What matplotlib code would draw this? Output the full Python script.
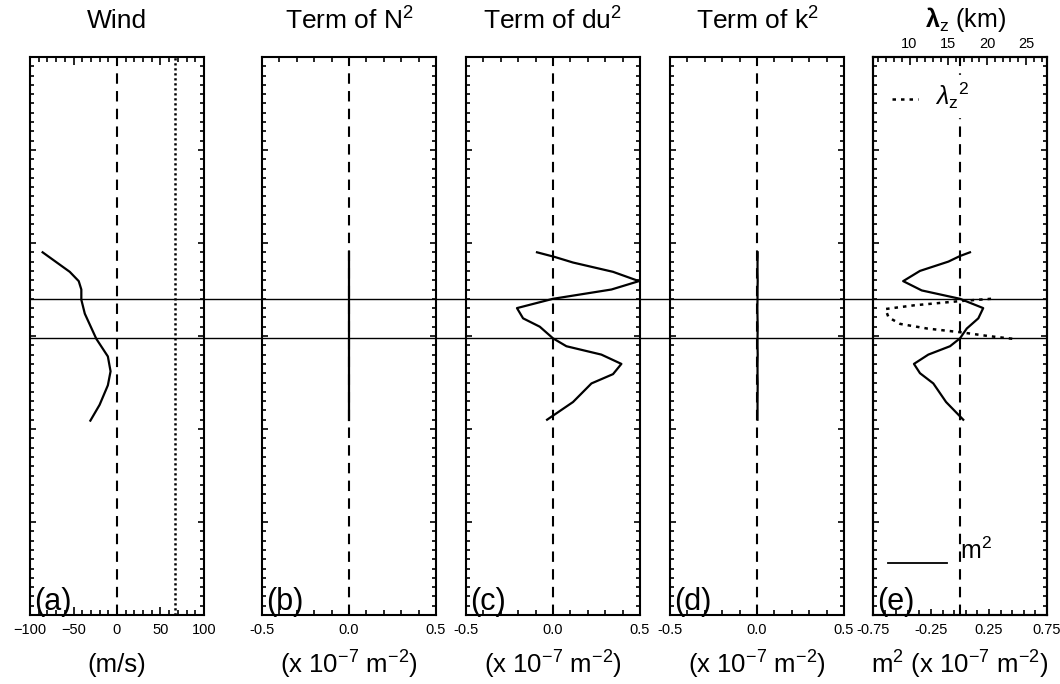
import matplotlib
matplotlib.use("Agg")
import matplotlib.pyplot as plt
import matplotlib.transforms as mtransforms
from matplotlib.ticker import MultipleLocator, FixedLocator, FormatStrFormatter
from matplotlib.lines import Line2D

plt.rcParams['font.family'] = ['Liberation Sans', 'DejaVu Sans']
plt.rcParams['mathtext.fontset'] = 'custom'
plt.rcParams['mathtext.rm'] = 'Liberation Sans'
plt.rcParams['mathtext.it'] = 'Liberation Sans:italic'
plt.rcParams['mathtext.bf'] = 'Liberation Sans:bold'
plt.rcParams['axes.unicode_minus'] = True
plt.rcParams['xtick.minor.visible'] = True
plt.rcParams['ytick.minor.visible'] = True

# ---------------- data ----------------
wind_z = [39.0, 36.9, 35.9, 35.0, 33.9, 32.4, 29.7, 27.8, 26.2, 24.7, 22.6, 20.9]
wind_u = [-85.5, -54.3, -44.0, -41.0, -41.0, -37.0, -23.8, -10.5, -7.4, -10.5, -20.0, -30.6]
wind_ref = 67.0

term_z = [39.0, 38.5, 37.9, 36.9, 35.9, 35.0, 34.0, 33.0, 31.9, 31.0, 29.75, 28.9,
          28.0, 27.0, 25.9, 24.9, 22.9, 21.0]
n2_term = [0.0, 0.0, 0.0, 0.0, 0.0, 0.0, 0.0, 0.0, 0.0, 0.0, 0.0, 0.0,
           0.0, 0.0, 0.0, 0.0, 0.0, 0.0]
du2_term = [-0.092, 0.010, 0.115, 0.345, 0.494, 0.336, 0.0, -0.207, -0.172, -0.076, 0.0, 0.077,
            0.278, 0.393, 0.345, 0.221, 0.115, -0.034]
k2_term = [0.004, 0.004, 0.003, 0.003, 0.004, 0.003, 0.003, 0.002, 0.003, 0.004, 0.003, 0.003,
           0.004, 0.003, 0.003, 0.004, 0.003, 0.003]

m2_z = [39.0, 38.6, 38.0, 37.0, 35.9, 34.9, 34.0, 33.0, 31.9, 30.8, 29.75, 28.9,
        28.0, 27.0, 26.0, 24.9, 22.9, 21.0]
m2_val = [0.086, 0.0, -0.10, -0.345, -0.49, -0.33, 0.0, 0.20, 0.158, 0.058, 0.0, -0.086,
          -0.273, -0.397, -0.345, -0.23, -0.12, 0.028]

lz_z = [34.0, 33.76, 33.3, 32.9, 32.0, 31.3, 30.8, 30.4, 30.0, 29.7]
lz_km = [20.5, 16.6, 10.6, 6.9, 7.3, 8.8, 12.3, 16.6, 20.1, 23.3]

layer_z = [34.0, 29.8]

titles = ['Wind', 'Term of N$^2$', 'Term of du$^2$', 'Term of k$^2$']
top_title = r'$\boldsymbol{\lambda}_{\mathrm{z}}$ (km)'
units = ['(m/s)', '(x 10$^{-7}$ m$^{-2}$)', '(x 10$^{-7}$ m$^{-2}$)',
         '(x 10$^{-7}$ m$^{-2}$)', 'm$^2$ (x 10$^{-7}$ m$^{-2}$)']
panel_tags = ['(a)', '(b)', '(c)', '(d)', '(e)']

# ---------------- layout ----------------
W, H = 1060, 684
fig = plt.figure(figsize=(W / 100, H / 100), dpi=100)
lefts = [30, 262, 466, 670, 873]
pw = 174
top_px, bot_px = 57, 615
axes = []
for lx in lefts:
    ax = fig.add_axes([lx / W, (H - bot_px) / H, pw / W, (bot_px - top_px) / H])
    axes.append(ax)

LW = 1.5
for ax in axes:
    ax.set_ylim(0, 60)
    ax.yaxis.set_major_locator(MultipleLocator(10))
    ax.yaxis.set_minor_locator(MultipleLocator(1))
    ax.yaxis.set_major_formatter(matplotlib.ticker.NullFormatter())
    for s in ax.spines.values():
        s.set_linewidth(LW)
    ax.tick_params(axis='both', which='both', direction='in', width=1.2,
                   labelsize=10.5, pad=6)
    ax.tick_params(axis='y', which='major', length=4, left=True, right=True)
    ax.tick_params(axis='y', which='minor', length=2.6, left=True, right=True)

# (a) wind
ax = axes[0]
ax.set_xlim(-100, 100)
ax.xaxis.set_major_locator(MultipleLocator(50))
ax.xaxis.set_minor_locator(MultipleLocator(10))
ax.plot(wind_u, wind_z, color='black', lw=1.6)
ax.axvline(0, color='black', lw=1.5, dashes=(5, 3.5))
ax.axvline(wind_ref, color='black', lw=1.8, dashes=(0.9, 1.1))

# (b),(c),(d)
for ax, vals in zip(axes[1:4], [n2_term, du2_term, k2_term]):
    ax.set_xlim(-0.5, 0.5)
    ax.xaxis.set_major_locator(MultipleLocator(0.5))
    ax.xaxis.set_minor_locator(MultipleLocator(0.1))
    ax.xaxis.set_major_formatter(FormatStrFormatter('%.1f'))
    ax.plot(vals, term_z, color='black', lw=1.6)
    ax.axvline(0, color='black', lw=1.5, dashes=(5, 3.5))

# (e)
ax = axes[4]
ax.set_xlim(-0.75, 0.75)
ax.xaxis.set_major_locator(FixedLocator([-0.75, -0.25, 0.25, 0.75]))
ax.xaxis.set_minor_locator(FixedLocator([-0.65 + 0.1 * i for i in range(14)]))
ax.xaxis.set_major_formatter(FormatStrFormatter('%.2f'))
ax.plot(m2_val, m2_z, color='black', lw=1.6)
ax.axvline(0, color='black', lw=1.5, dashes=(5, 3.5))

for ax in axes[:4]:
    ax.tick_params(axis='x', which='major', length=5.5, top=True, bottom=True)
    ax.tick_params(axis='x', which='minor', length=3.4, top=True, bottom=True)
for ax in axes[1:4]:
    ax.tick_params(axis='x', which='major', length=3.8)
axes[4].tick_params(axis='x', which='major', length=4, top=False, bottom=True)
axes[4].tick_params(axis='x', which='minor', length=3.4, top=False, bottom=True)

# top axis of (e)
axt = axes[4].twiny()
axt.set_xlim(5.3, 27.7)
axt.xaxis.set_major_locator(MultipleLocator(5))
axt.xaxis.set_minor_locator(MultipleLocator(1))
axt.tick_params(axis='x', which='major', direction='in', length=6, width=1.2,
                labelsize=10.5, pad=4)
axt.tick_params(axis='x', which='minor', direction='in', length=3.5, width=1.2)
axt.tick_params(axis='y', which='both', left=False, right=False)
for s in axt.spines.values():
    s.set_linewidth(LW)
axt.plot(lz_km, lz_z, color='black', lw=1.8, dashes=(1.4, 2.0))

# legend of (e)
ax = axes[4]
ax.text(0.355, 0.93, r'$\lambda_{\mathrm{z}}{}^2$', transform=ax.transAxes, fontsize=18,
        va='center', ha='left', backgroundcolor='white')
ax.add_line(Line2D([0.11, 0.26], [0.925, 0.925], transform=ax.transAxes, color='black',
                   lw=1.8, dashes=(1.4, 2.0)))
ax.add_line(Line2D([0.085, 0.425], [0.093, 0.093], transform=ax.transAxes, color='black',
                   lw=1.3))
ax.text(0.5, 0.115, r'm$^2$', transform=ax.transAxes, fontsize=18, va='center', ha='left')

# panel tags
for ax, tag in zip(axes, panel_tags):
    ax.text(0.025, -0.004, tag, transform=ax.transAxes, fontsize=22, va='bottom', ha='left')

# titles and units
for lx, t in zip(lefts[:4], titles):
    fig.text((lx + pw / 2) / W, 1 - 21 / H, t, fontsize=19, ha='center', va='center')
fig.text((lefts[4] + pw / 2 + 6) / W, 1 - 19 / H, top_title, fontsize=18,
         ha='center', va='center')
for lx, u in zip(lefts, units):
    fig.text((lx + pw / 2) / W, (H - 665) / H, u, fontsize=18.5, ha='center', va='center')

# horizontal layer lines across all panels
trans = mtransforms.blended_transform_factory(fig.transFigure, axes[0].transData)
for zl in layer_z:
    fig.add_artist(Line2D([30 / W, 1046 / W], [zl, zl], transform=trans,
                          color='black', lw=1.0))

fig.savefig('out.png', dpi=100)
